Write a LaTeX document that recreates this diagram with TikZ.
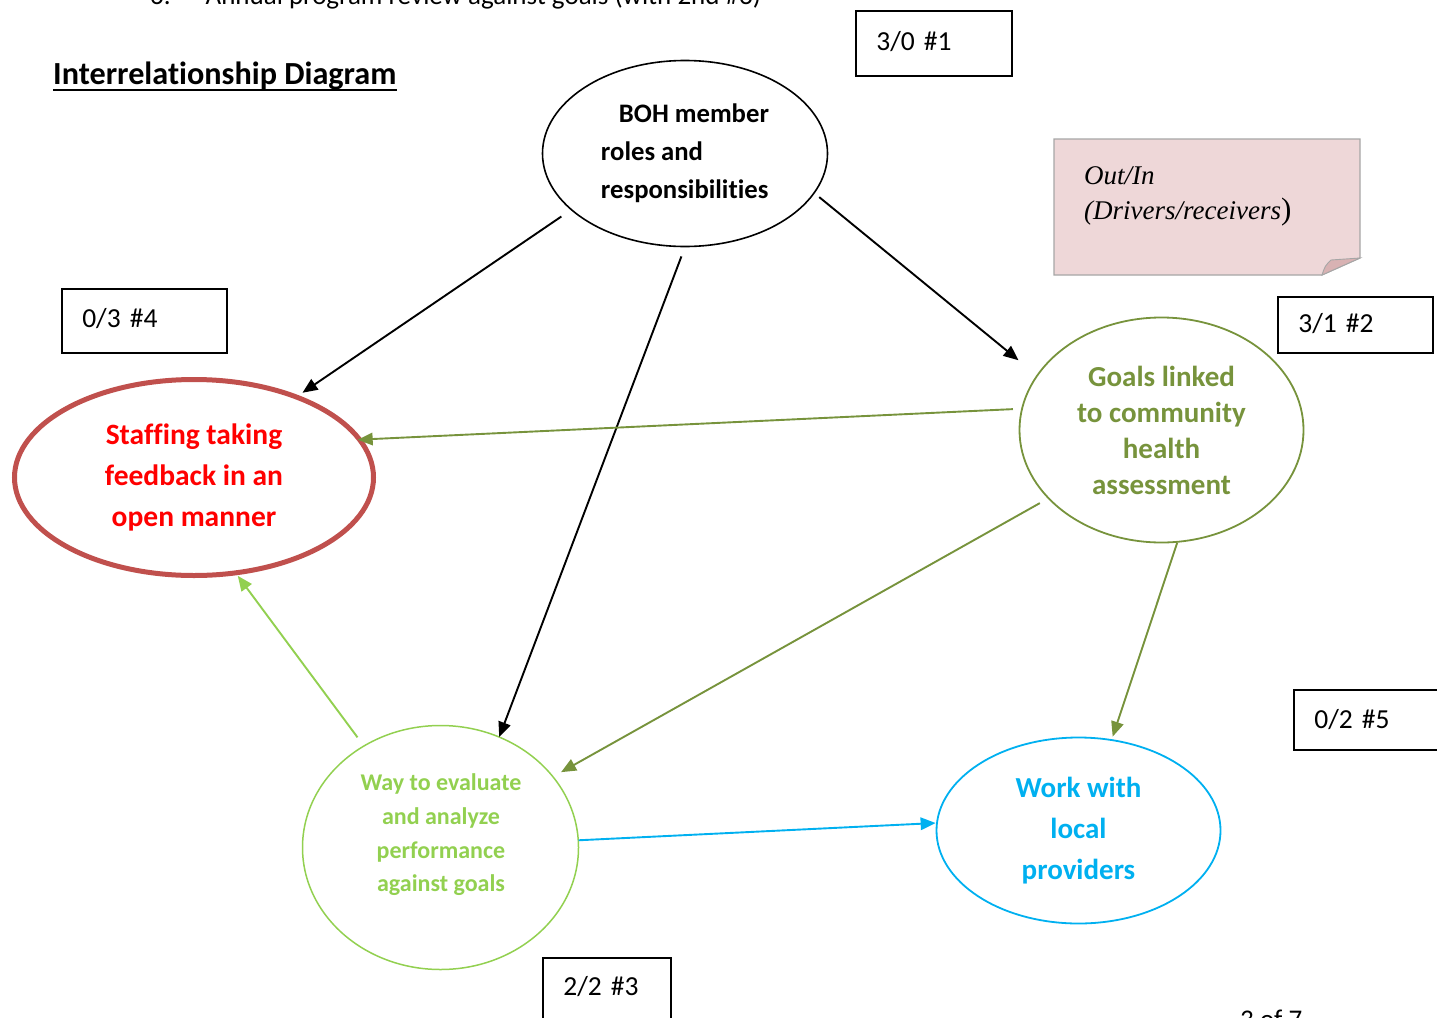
\documentclass[tikz,border=0pt]{standalone}
\usepackage{fontspec}
\setmainfont{Carlito}[Ligatures=NoCommon]
\newfontfamily\notefont{Liberation Serif}
\usetikzlibrary{shapes.geometric,arrows.meta,calc}
\definecolor{cOlive}{HTML}{77933C}
\definecolor{cLime}{HTML}{92D050}
\definecolor{cSky}{HTML}{00B0F0}
\definecolor{cBrick}{HTML}{C0504D}
\definecolor{cRed}{HTML}{FF0000}
\definecolor{notepink}{HTML}{EED7D8}
\definecolor{notefold}{HTML}{D8B2B3}
\definecolor{notegray}{HTML}{A6A6A6}
\tikzset{
  ell/.style={ellipse, inner sep=0pt, outer sep=0pt, align=center},
  numbox/.style={draw=black, line width=1.6pt, rectangle, anchor=north west,
    inner xsep=20.5pt, inner ysep=0pt, align=left,
    font=\fontsize{27.5}{33}\selectfont},
  conn/.style={line width=1.9pt, -{Triangle[length=15pt,width=12.5pt]}},
  plaintext/.style={inner sep=0pt, anchor=base west}
}
\begin{document}
\begin{tikzpicture}[x=1pt,y=-1pt]
\useasboundingbox (0,0) rectangle (1437,1017);
\clip (0,0) rectangle (1437,1017);

% cut-off page text
\node[plaintext, font=\fontsize{27}{32}\selectfont] (toptext) at (150,5)
  {6.\hspace{35pt}Annual program review against goals (with 2nd \#3)};
\node[plaintext, font=\fontsize{27}{32}\selectfont] (pagenum) at (1240,1028) {3 of 7};

% title
\node[plaintext, font=\bfseries\fontsize{32.2}{38}\selectfont] (title) at (53,84.5) {Interrelationship Diagram};
\draw[line width=2pt] ([yshift=-5.5pt]title.base west) -- ([yshift=-5.5pt]title.base east);

% note
\draw[draw=notegray, fill=notepink, line width=1.2pt]
  (1054,139) -- (1360,139) -- (1360,258) -- (1322,275) -- (1054,275) -- cycle;
\draw[draw=notegray, fill=notefold, line width=0.9pt]
  (1322,275) .. controls (1325,266) .. (1331,260) -- (1360,258) -- cycle;
\node[inner sep=0pt, anchor=north west, align=left,
  font=\notefont\itshape\fontsize{27}{35}\selectfont] (notetext) at (1084,166)
  {Out/In\\(Drivers/receivers\textup{\fontsize{31}{35}\selectfont)}};

% ellipses
\node[ell, draw=black, line width=1.6pt, minimum width=285pt, minimum height=186pt,
  align=left, font=\bfseries\fontsize{26.7}{38}\selectfont] (boh) at (685,153.5)
  {\hspace*{18pt}BOH member\\roles and\\responsibilities};
\node[ell, draw=cBrick, line width=5pt, minimum width=359pt, minimum height=196pt,
  text=cRed, font=\bfseries\fontsize{29.5}{41}\selectfont] (staff) at (194,477.5)
  {Staffing taking\\feedback in an\\open manner};
\node[ell, draw=cOlive, line width=1.8pt, minimum width=284pt, minimum height=225pt,
  text=cOlive, font=\bfseries\fontsize{29}{36}\selectfont] (goals) at (1161.5,430)
  {Goals linked\\to community\\health\\assessment};
\node[ell, draw=cLime, line width=1.5pt, minimum width=276pt, minimum height=244pt] (way) at (440.5,847.5) {};
\node[inner sep=0pt, align=center, text=cLime, font=\bfseries\fontsize{24}{33.7}\selectfont]
  (waytext) at (441,835) {Way to evaluate\\and analyze\\performance\\against goals};
\node[ell, draw=cSky, line width=1.8pt, minimum width=284pt, minimum height=186pt,
  text=cSky, font=\bfseries\fontsize{29}{41}\selectfont] (work) at (1078.5,830.5)
  {Work with\\local\\providers};

% count boxes
\node[numbox, text width=115pt, text height=40pt, text depth=25pt] (b1) at (855,10) {3/0 \#1};
\node[numbox, text width=124pt, text height=39pt, text depth=25pt] (b4) at (61,288) {0/3 \#4};
\node[numbox, text width=114pt, text height=36pt, text depth=20pt] (b2) at (1277,296) {3/1 \#2};
\node[numbox, text width=114pt, text height=39pt, text depth=21pt] (b5) at (1293,689) {0/2 \#5};
\node[numbox, text width=87pt, text height=38pt, text depth=40pt] (b3) at (542,957) {2/2 \#3};

% connectors
\draw[conn, black] ($(boh)!1.1006!(boh.-153.8)$) -- ($(staff)!1.0552!(staff.38.18)$);
\draw[conn, black] ($(boh)!1.1069!(boh.-92.75)$) -- ($(way)!1.0004!(way.62.7)$);
\draw[conn, black] ($(boh)!1.0523!(boh.-18.56)$) -- ($(goals)!1.1823!(goals.154.0)$);
\draw[conn, cOlive] ($(goals)!1.0625!(goals.172.76)$) -- ($(staff)!0.99!(staff.13.06)$);
\draw[conn, cOlive] ($(goals)!1.0753!(goals.-149.21)$) -- ($(way)!1.0699!(way.32.97)$);
\draw[conn, cOlive] ($(goals)!1.0059!(goals.-82.19)$) -- ($(work)!1.0379!(work.70.48)$);
\draw[conn, cLime] ($(way)!1.085!(way.127.07)$) -- ($(staff)!1.0324!(staff.-66.84)$);
\draw[conn, cSky] ($(way)!1.003!(way.3.92)$) -- ($(work)!1.0094!(work.177.41)$);
\end{tikzpicture}
\end{document}
